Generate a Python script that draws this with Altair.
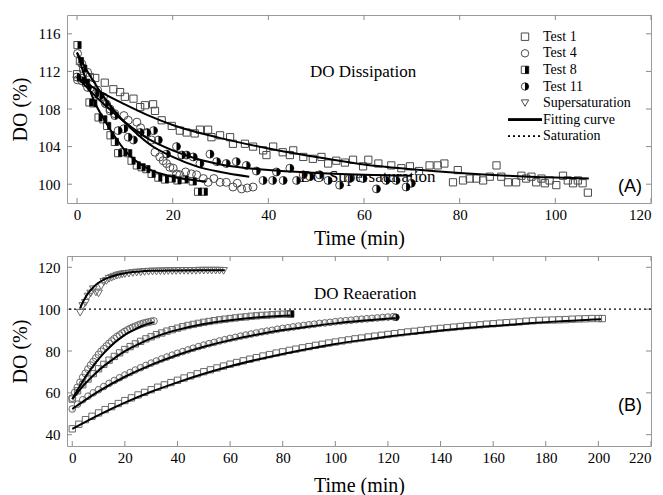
import altair as alt
import pandas as pd

SERIF = "'Times New Roman', 'Liberation Serif', Times, serif"
SANS = "Arial, 'Liberation Sans', Helvetica, sans-serif"
MK = "#4a4a4a"
TICK = "#8a8a8a"

# ================= Panel A : DO dissipation =================
A1_T = [0, 0.8, 2.7, 3.8, 5.8, 7.6, 9.0, 10.0, 11.8, 13.2, 14.2, 15.9, 16.3, 17.7, 19.8, 21.5, 22.9, 24.6, 25.7, 27.4,
        28.1, 29.9, 32.0, 32.6, 35.1, 36.8, 38.9, 39.6, 41.0, 43.0, 44.5, 45.2, 47.3, 49.3, 51.1, 52.5, 54.2, 56.0, 57.7, 59.8,
        60.9, 63.0, 65.7, 67.8, 69.6, 71.5, 73.7, 75.4, 76.8, 78.6, 79.6, 80.7, 82.1, 83.5, 84.9, 86.3, 87.7, 88.7, 90.1, 91.8,
        92.9, 93.9, 95.0, 96.0, 97.1, 97.8, 98.8, 100.2, 101.6, 102.6, 103.7, 104.7, 105.7, 106.8]
A1_DO = [111.7, 111.3, 111.4, 111.3, 110.8, 110.1, 109.8, 109.3, 109.1, 108.2, 108.4, 108.5, 107.8, 106.8, 106.2, 105.7, 105.5, 105.4, 105.8, 105.8,
         105.0, 105.2, 105.0, 104.3, 104.3, 104.0, 103.6, 103.1, 104.0, 103.4, 103.1, 103.6, 102.9, 102.7, 102.9, 102.2, 102.5, 102.3, 102.6, 101.9,
         102.6, 102.2, 102.0, 101.7, 101.9, 101.4, 102.0, 102.0, 102.2, 100.2, 101.5, 100.4, 100.6, 100.6, 100.4, 100.8, 102.0, 100.8, 100.2, 100.2,
         100.9, 100.6, 100.8, 100.2, 100.6, 100.1, 100.4, 99.9, 100.9, 100.4, 100.1, 100.4, 100.1, 99.1]

A4_T = [0.1, 0.1, 1.0, 2.2, 3.1, 4.3, 5.5, 6.2, 6.9, 7.9, 9.8, 10.7, 12.5, 13.3, 14.5, 15.6, 16.3, 17.3, 18.0, 18.7,
        19.4, 20.1, 20.8, 21.5, 22.7, 23.9, 25.0, 26.4, 27.4, 28.6, 29.9, 31.2, 32.6, 33.5, 34.4, 35.6, 36.8]
A4_DO = [113.9, 111.1, 112.8, 111.9, 110.7, 110.0, 109.3, 108.5, 108.0, 107.5, 107.3, 106.8, 106.6, 106.0, 105.4, 104.7, 103.4, 102.9, 102.5, 102.2,
         101.8, 101.7, 101.1, 101.0, 101.3, 101.1, 101.0, 100.6, 100.2, 100.6, 100.2, 100.2, 99.7, 100.1, 99.5, 99.6, 99.7]

A8_T = [0.1, 0.6, 1.3, 1.9, 2.6, 3.4, 4.5, 5.5, 6.3, 7.0, 7.9, 8.6, 9.7, 10.7, 11.4, 12.5, 13.5, 14.5, 15.6, 17.0,
        18.4, 19.8, 21.0, 22.5, 24.2, 25.3, 26.5]
A8_DO = [114.8, 113.1, 112.3, 110.8, 108.7, 108.6, 107.1, 106.9, 106.2, 105.2, 104.5, 103.3, 103.4, 103.3, 102.5, 102.0, 101.8, 101.6, 101.1, 100.7,
         100.5, 100.6, 100.4, 100.5, 100.3, 99.2, 99.2]

A11_T = [0.0, 1.0, 2.2, 3.8, 4.8, 5.9, 6.9, 7.9, 8.6, 9.8, 10.7, 11.8, 13.2, 14.6, 16.0, 17.0, 18.7, 20.8, 21.9, 22.9,
         24.3, 25.7, 27.8, 29.2, 31.2, 33.3, 35.4, 37.5, 38.9, 40.9, 41.7, 43.1, 44.5, 45.9, 47.3, 48.7, 50.7, 52.5, 54.9, 57.0,
         59.8, 62.6, 64.6, 66.7, 68.8, 69.9]
A11_DO = [111.4, 111.0, 110.3, 109.6, 109.4, 108.6, 107.8, 107.3, 105.7, 105.9, 105.0, 104.7, 105.5, 105.5, 105.7, 104.7, 103.2, 104.0, 103.1, 103.1,
          102.9, 102.2, 103.2, 102.4, 102.2, 102.4, 102.0, 101.4, 100.4, 100.4, 101.3, 100.4, 101.7, 100.4, 101.0, 100.8, 101.0, 100.4, 99.9, 100.6,
          100.6, 99.5, 100.4, 100.4, 99.7, 100.1]

# fitting curves, panel A
FA1_T = [0, 5, 10, 15, 20, 30, 40, 50, 60, 70, 80, 90, 100, 107]
FA1_DO = [111.4, 109.8, 108.5, 107.3, 106.3, 104.9, 103.8, 102.9, 102.1, 101.6, 101.2, 100.9, 100.7, 100.6]
FA4_T = [0, 3, 6, 9, 12, 15, 20, 25, 30, 36]
FA4_DO = [114.0, 111.3, 109.0, 107.1, 105.6, 104.3, 102.9, 101.9, 101.3, 100.8]
FA8_T = [0, 2, 4, 6, 8, 10, 12, 15, 20, 25, 27]
FA8_DO = [114.0, 110.9, 108.4, 106.6, 105.0, 103.6, 102.6, 101.6, 100.8, 100.4, 100.3]
FA11_T = [0, 5, 10, 15, 20, 25, 30, 40, 50, 60, 70]
FA11_DO = [111.4, 108.8, 106.6, 104.8, 103.6, 102.7, 102.1, 101.5, 101.2, 101.0, 100.9]

# ================= Panel B : DO reaeration =================
BSS_T = [3, 4, 5, 6, 7, 8, 9, 10, 11, 12, 13, 14, 15, 16, 17, 18, 19, 20, 21.5, 23, 24.5, 26, 27.5, 29, 30.5, 32, 33.5,
         35, 36.5, 38, 39.5, 41, 42.5, 44, 45.5, 47, 48.5, 50, 51.5, 53, 54.5, 56, 57.5]
BSS_DO = [98.3, 101.5, 103.0, 106.0, 107.5, 109.5, 108.0, 107.5, 111.0, 113.0, 113.5, 114.5, 115.0, 115.5, 116.0, 116.3, 116.6, 116.8,
          117.0, 117.3, 117.5, 117.6, 117.8, 117.9, 118.0, 118.0, 118.1, 118.1, 118.2, 118.2, 118.2, 118.3, 118.3, 118.3, 118.3, 118.3,
          118.4, 118.4, 118.4, 118.4, 118.4, 118.4, 118.3]

B4_T = [0, 1, 2, 3, 4, 5, 6, 7, 8, 9, 10, 11, 12, 13, 14, 15, 16, 17, 18, 19, 20, 21, 22, 23, 24, 25, 26, 27, 28, 29, 30, 31]
B4_DO = [57.5, 60.2, 62.6, 65.0, 67.3, 69.3, 71.3, 73.2, 74.9, 76.6, 78.3, 79.8, 81.0, 82.3, 83.6, 84.7, 85.8, 86.8, 87.6, 88.5,
         89.3, 90.0, 90.7, 91.3, 91.8, 92.3, 92.8, 93.2, 93.5, 93.8, 94.1, 94.3]

B8_T = [0, 2, 4, 6, 8, 10, 12, 14, 16, 18, 20, 22, 24, 26, 28, 30, 32, 34, 36, 38, 40, 42, 44, 46, 48, 50, 52, 54, 56, 58,
        60, 62, 64, 66, 68, 70, 72, 74, 76, 78, 80, 82, 83]
B8_DO = [57.0, 61.0, 63.9, 66.6, 69.2, 71.5, 73.6, 75.6, 77.4, 79.1, 80.7, 82.1, 83.4, 84.6, 85.8, 86.8, 87.8, 88.6, 89.5, 90.2,
         90.9, 91.6, 92.2, 92.7, 93.2, 93.7, 94.1, 94.5, 94.9, 95.2, 95.5, 95.8, 96.1, 96.3, 96.6, 96.8, 97.0, 97.1, 97.3, 97.5,
         97.6, 97.7, 97.7]

B11_T = [0, 2, 4, 6, 8, 10, 12, 14, 16, 18, 20, 22, 24, 26, 28, 30, 32, 34, 36, 38, 40, 42, 44, 46, 48, 50, 52, 54, 56, 58,
         60, 62, 64, 66, 68, 70, 72, 74, 76, 78, 80, 82, 84, 86, 88, 90, 92, 94, 96, 98, 100, 102, 104, 106, 108, 110, 112, 114,
         116, 118, 120, 122, 123]
B11_DO = [52.3, 54.6, 56.7, 58.4, 60.0, 61.5, 63.0, 64.5, 65.9, 67.2, 68.5, 69.7, 70.9, 72.0, 73.1, 74.2, 75.2, 76.2, 77.1, 78.0,
          78.9, 79.7, 80.5, 81.3, 82.1, 82.8, 83.5, 84.1, 84.8, 85.4, 86.0, 86.5, 87.1, 87.6, 88.1, 88.6, 89.1, 89.5, 89.9, 90.4,
          90.8, 91.1, 91.5, 91.9, 92.2, 92.5, 92.8, 93.2, 93.4, 93.7, 94.0, 94.3, 94.5, 94.7, 95.0, 95.2, 95.4, 95.6, 95.8, 96.0,
          96.2, 96.4, 96.1]

B1_T = [0, 2.5, 5, 7.5, 10, 12.5, 15, 17.5, 20, 22.5, 25, 27.5, 30, 32.5, 35, 37.5, 40, 42.5, 45, 47.5, 50, 52.5, 55, 57.5,
        60, 62.5, 65, 67.5, 70, 72.5, 75, 77.5, 80, 82.5, 85, 87.5, 90, 92.5, 95, 97.5, 100, 102.5, 105, 107.5, 110, 112.5,
        115, 117.5, 120, 122.5, 125, 127.5, 130, 132.5, 135, 137.5, 140, 142.5, 145, 147.5, 150, 152.5, 155, 157.5, 160,
        162.5, 165, 167.5, 170, 172.5, 175, 177.5, 180, 182.5, 185, 187.5, 190, 192.5, 195, 197.5, 200, 201.5]
B1_DO = [42.8, 45.0, 47.2, 48.8, 50.4, 52.0, 53.4, 54.9, 56.3, 57.6, 59.0, 60.2, 61.5, 62.7, 63.8, 64.9, 66.0, 67.1, 68.1, 69.1,
         70.1, 71.0, 71.9, 72.8, 73.7, 74.5, 75.3, 76.1, 76.8, 77.6, 78.3, 79.0, 79.6, 80.3, 80.9, 81.5, 82.1, 82.7, 83.2, 83.8,
         84.3, 84.8, 85.3, 85.8, 86.2, 86.7, 87.1, 87.5, 87.9, 88.3, 88.7, 89.1, 89.4, 89.8, 90.1, 90.5, 90.8, 91.1, 91.4, 91.7,
         92.0, 92.2, 92.5, 92.8, 93.0, 93.3, 93.5, 93.7, 93.9, 94.2, 94.4, 94.6, 94.7, 94.8, 94.9, 95.0, 95.2, 95.3, 95.4, 95.5,
         95.5, 95.5]

# fitting curves, panel B
FBSS_T = [3, 4, 5, 6, 7, 8, 10, 12, 14, 16, 18, 20, 25, 30, 40, 50, 58]
FBSS_DO = [100.5, 103.3, 105.6, 107.5, 109.1, 110.5, 112.6, 114.1, 115.2, 116.0, 116.7, 117.2, 117.9, 118.3, 118.5, 118.6, 118.6]
FB4_T = [0, 3, 6, 9, 12, 15, 18, 21, 24, 27, 31]
FB4_DO = [57.0, 63.5, 69.5, 74.6, 79.0, 82.8, 85.9, 88.5, 90.5, 92.2, 93.8]
FB8_T = [0, 5, 10, 15, 20, 25, 30, 35, 40, 50, 60, 70, 83]
FB8_DO = [57.0, 64.5, 70.7, 75.6, 79.9, 83.2, 86.0, 88.3, 90.1, 92.9, 94.7, 96.0, 97.0]
FB11_T = [0, 10, 20, 30, 40, 50, 60, 70, 80, 90, 100, 110, 123]
FB11_DO = [52.3, 60.7, 67.7, 73.4, 78.1, 82.0, 85.2, 87.8, 90.0, 91.7, 93.2, 94.4, 95.7]
FB1_T = [0, 10, 20, 30, 40, 50, 60, 70, 80, 90, 100, 110, 120, 130, 140, 150, 160, 170, 180, 190, 201]
FB1_DO = [42.8, 49.4, 55.3, 60.5, 65.0, 69.1, 72.7, 75.8, 78.6, 81.1, 83.3, 85.2, 86.9, 88.4, 89.8, 91.0, 92.0, 92.9, 93.8, 94.5, 95.2]

SATURATION = [100]

# axis ticks
A_XTICKS = [0, 20, 40, 60, 80, 100, 120]
A_YTICKS = [100, 104, 108, 112, 116]
B_XTICKS = [0, 20, 40, 60, 80, 100, 120, 140, 160, 180, 200, 220]
B_YTICKS = [40, 60, 80, 100, 120]

# legend
LEG_LABELS = ["Test 1", "Test 4", "Test 8", "Test 11", "Supersaturation", "Fitting curve", "Saturation"]

HALF_SQ = "M0,-1L1,-1L1,1L0,1Z"
HALF_CI = "M0,-1A1,1,0,0,1,0,1Z"

WA, HA = 584, 188
WB, HB = 584, 190


def df(t, v):
    return pd.DataFrame({"t": t, "do": v})


def encs(xdom, ydom, xt, yt, x_title_pad):
    X = alt.X("t:Q", scale=alt.Scale(domain=xdom, nice=False, zero=False),
              axis=alt.Axis(values=xt, title="Time (min)", format="d", titlePadding=x_title_pad))
    Y = alt.Y("do:Q", scale=alt.Scale(domain=ydom, nice=False, zero=False),
              axis=alt.Axis(values=yt, title="DO (%)", format="d"))
    return X, Y


def points(d, X, Y, shape, half, size, half_color="black", half_opacity=1.0, stroke=MK):
    out = [alt.Chart(d).mark_point(shape=shape, filled=False, color=stroke, strokeWidth=1,
                                   size=size, opacity=1).encode(x=X, y=Y)]
    if half:
        out.append(alt.Chart(d).mark_point(shape=half, filled=True, color=half_color, size=size,
                                           opacity=half_opacity, strokeWidth=0).encode(x=X, y=Y))
    return out


def curve(d, X, Y):
    return alt.Chart(d).mark_line(color="black", strokeWidth=2, interpolate="monotone").encode(x=X, y=Y)


def tick_layers(X, Y, xt, yt, W, H):
    xd = pd.DataFrame({"t": xt})
    yd = pd.DataFrame({"do": yt})
    r = dict(color=TICK, strokeWidth=1)
    return [
        alt.Chart(xd).mark_rule(**r).encode(x=X, y=alt.value(0), y2=alt.value(5)),
        alt.Chart(xd).mark_rule(**r).encode(x=X, y=alt.value(H), y2=alt.value(H - 5)),
        alt.Chart(yd).mark_rule(**r).encode(y=Y, x=alt.value(0), x2=alt.value(5)),
        alt.Chart(yd).mark_rule(**r).encode(y=Y, x=alt.value(W), x2=alt.value(W - 5)),
    ]


def label(X, Y, t, v, text, font, size, align="center"):
    d = pd.DataFrame({"t": [t], "do": [v], "txt": [text]})
    return alt.Chart(d).mark_text(font=font, fontSize=size, align=align, baseline="middle",
                                  color="black").encode(x=X, y=Y, text="txt:N")


# ---------------- Panel A ----------------
XA, YA = encs([-2.1, 120], [98.0, 118.0], A_XTICKS, A_YTICKS, 6)
layA = []
layA += tick_layers(XA, YA, A_XTICKS, A_YTICKS, WA, HA)
layA.append(label(XA, YA, 59.8, 111.9, "DO Dissipation", SERIF, 17))
layA.append(label(XA, YA, 60.8, 100.8, "DO Supersaturation", SERIF, 17))
layA.append(label(XA, YA, 115.6, 99.7, "(A)", SANS, 18))
layA += points(df(A1_T, A1_DO), XA, YA, "square", None, 52)
layA += points(df(A4_T, A4_DO), XA, YA, "circle", None, 64)
layA += points(df(A8_T, A8_DO), XA, YA, "square", HALF_SQ, 52)
layA += points(df(A11_T, A11_DO), XA, YA, "circle", HALF_CI, 64)
for t, v in [(FA1_T, FA1_DO), (FA4_T, FA4_DO), (FA8_T, FA8_DO), (FA11_T, FA11_DO)]:
    layA.append(curve(df(t, v), XA, YA))

# legend (pixel layout inside panel A)
LEG_X_SYM, LEG_X_TXT, LEG_Y0, LEG_STEP = 458, 476, 21.7, 16.6
leg_y = [LEG_Y0 + i * LEG_STEP for i in range(len(LEG_LABELS))]
LX = alt.X("lx:Q", scale=None, axis=None)
LY = alt.Y("ly:Q", scale=None, axis=None)
sym = pd.DataFrame({"lx": [LEG_X_SYM] * 5, "ly": leg_y[:5],
                    "shp": ["square", "circle", "square", "circle", "triangle-down"]})
half = pd.DataFrame({"lx": [LEG_X_SYM] * 2, "ly": leg_y[2:4], "shp": [HALF_SQ, HALF_CI]})
txt = pd.DataFrame({"lx": [LEG_X_TXT] * len(LEG_LABELS), "ly": leg_y, "lab": LEG_LABELS})
layA.append(alt.Chart(sym).mark_point(filled=False, color=MK, strokeWidth=1, size=55, opacity=1)
            .encode(x=LX, y=LY, shape=alt.Shape("shp:N", scale=None, legend=None)))
layA.append(alt.Chart(half).mark_point(filled=True, color="black", strokeWidth=0, size=55, opacity=1)
            .encode(x=LX, y=LY, shape=alt.Shape("shp:N", scale=None, legend=None)))
layA.append(alt.Chart(txt).mark_text(font=SERIF, fontSize=14, align="left", baseline="middle", color="black")
            .encode(x=LX, y=LY, text="lab:N"))
layA.append(alt.Chart(txt).mark_rule(color="black", strokeWidth=2)
            .encode(x=alt.value(441), x2=alt.value(475), y=alt.value(leg_y[5])))
layA.append(alt.Chart(txt).mark_rule(color="black", strokeWidth=1, strokeDash=[2, 3])
            .encode(x=alt.value(441), x2=alt.value(475), y=alt.value(leg_y[6])))

panelA = alt.layer(*layA).properties(width=WA, height=HA)

# ---------------- Panel B ----------------
MKB = "#6a6a6a"
XB, YB = encs([-2.0, 220], [34.6, 125.4], B_XTICKS, B_YTICKS, 10)
layB = []
layB += tick_layers(XB, YB, B_XTICKS, B_YTICKS, WB, HB)
layB.append(alt.Chart(pd.DataFrame({"do": SATURATION})).mark_rule(color="black", strokeWidth=1.2,
                                                                  strokeDash=[2, 3]).encode(y=YB))
layB.append(label(XB, YB, 111.4, 107.2, "DO Reaeration", SERIF, 17))
layB.append(label(XB, YB, 212.0, 53.9, "(B)", SANS, 18))
layB += points(df(BSS_T, BSS_DO), XB, YB, "triangle-down", None, 60, stroke=MKB)
layB += points(df(B1_T, B1_DO), XB, YB, "square", None, 40, stroke=MKB)
layB += points(df(B11_T, B11_DO), XB, YB, "circle", HALF_CI, 45, "#888888", 0.35, MKB)
layB += points(df(B8_T, B8_DO), XB, YB, "square", HALF_SQ, 40, "#888888", 0.35, MKB)
layB += points(df(B4_T, B4_DO), XB, YB, "circle", None, 50, stroke=MKB)
# black end markers visible at the end of Test 8 and Test 11 series
layB += points(df(B8_T[-1:], B8_DO[-1:]), XB, YB, "square", HALF_SQ, 40)
layB += points(df(B11_T[-1:], B11_DO[-1:]), XB, YB, "circle", HALF_CI, 45)
for t, v in [(FBSS_T, FBSS_DO), (FB4_T, FB4_DO), (FB8_T, FB8_DO), (FB11_T, FB11_DO), (FB1_T, FB1_DO)]:
    layB.append(curve(df(t, v), XB, YB))

panelB = alt.layer(*layB).properties(width=WB, height=HB)

chart = (
    alt.vconcat(panelA, panelB, spacing=6)
    .properties(padding={"left": 2, "top": 6, "right": 2, "bottom": 2}, background="white")
    .configure_view(stroke="#9a9a9a", strokeWidth=1)
    .configure_axis(grid=False, ticks=False, tickSize=0, domain=False,
                    labelFont=SERIF, labelFontSize=15, labelColor="black",
                    titleFont=SERIF, titleFontSize=20, titleFontWeight="normal", titleColor="black")
    .configure_axisX(labelPadding=4)
    .configure_axisY(labelPadding=7, titlePadding=7)
)

chart.save("out.html", embed_options={"renderer": "svg", "actions": False})
